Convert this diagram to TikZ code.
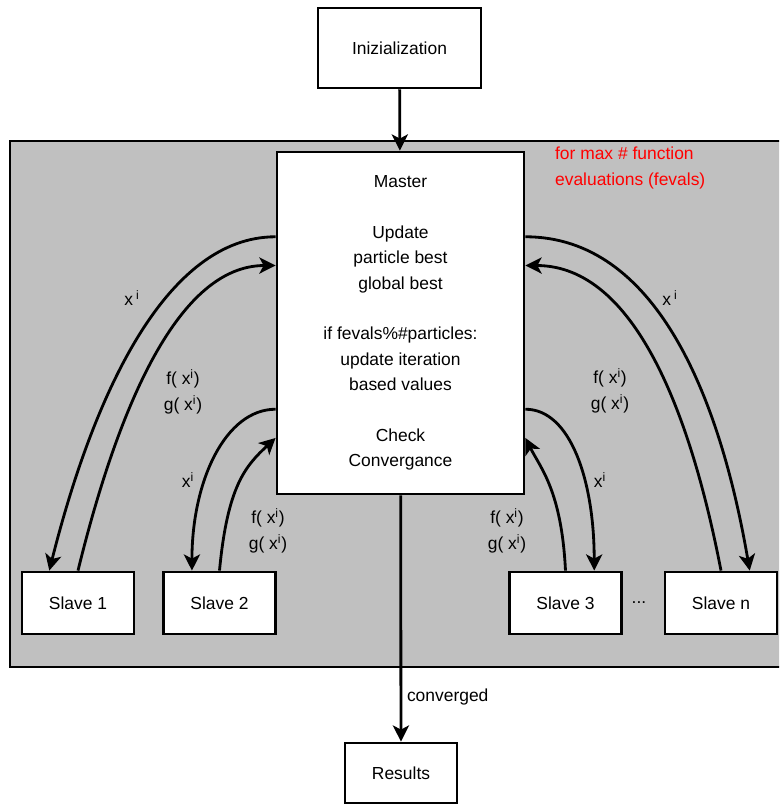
\documentclass[tikz,border=0pt]{standalone}
\usepackage{fontspec}
\setmainfont{Liberation Sans}
\usetikzlibrary{arrows.meta,calc}
\definecolor{panel}{RGB}{192,192,192}

\begin{document}
\begin{tikzpicture}[x=0.025cm,y=-0.025cm,line width=2pt,
  font=\fontsize{12.4}{18.1}\selectfont,
  box/.style={draw,fill=white,minimum width=2.8cm,minimum height=1.55cm,inner sep=0pt},
  arr/.style={-{Stealth[length=11.5pt,width=11.5pt,inset=3pt]}}]
  \useasboundingbox (0,0) rectangle (779,804);
  % grey loop panel, open to the right
  \begin{scope}
    \clip (0,0) rectangle (779,804);
    \fill[panel] (10,141) rectangle (800,667);
    \draw (800,141) -- (10,141) -- (10,667) -- (800,667);
  \end{scope}
  \node[red,align=left,anchor=west] (loop) at (549,168) {for max \# function\\evaluations (fevals)};

  \node[box,minimum width=4.075cm,minimum height=2cm] (init) at (399.5,48) {Inizialization};
  \node[box,minimum width=6.175cm,minimum height=8.55cm,align=center] (master) at (400.5,323)
    {Master\\[18pt]Update\\particle best\\global best\\[18pt]if fevals\%\#particles:\\update iteration\\based values\\[18pt]Check\\Convergance};
  \node[box] (s1) at (78,603) {Slave 1};
  \node[box] (s2) at (219.5,603) {Slave 2};
  \node[box] (s3) at (565.5,603) {Slave 3};
  \node[box] (sn) at (721,603) {Slave n};
  \node (dots) at (639,603) {...};
  \node[box,minimum height=1.5cm] (res) at (401,773) {Results};

  \draw[arr] (init) -- (master);
  \draw[arr] (master) -- node[pos=.82,right] (conv) {converged} (res);

  % slave 1
  \draw[arr] ($(master.north west)!.25!(master.south west)$) .. controls +(-110,0) and +(44,-175) .. ($(s1.north west)!.25!(s1.north east)$);
  \draw[arr] (s1.north) .. controls +(38,-155) and +(-100,0) .. ($(master.north west)!.3333!(master.south west)$);
  % slave 2
  \draw[arr] ($(master.north west)!.75!(master.south west)$) .. controls +(-50,0) and +(0,-90) .. ($(s2.north west)!.26!(s2.north east)$);
  \draw[arr] (s2.north) .. controls +(8,-85) and +(-30,28) .. ($(master.north west)!.8333!(master.south west)$);
  % slave 3
  \draw[arr] ($(master.north east)!.75!(master.south east)$) .. controls +(45,0) and +(0,-90) .. ($(s3.north west)!.75!(s3.north east)$);
  \draw[arr] (s3.north) .. controls +(-4,-80) and +(15,30) .. ($(master.north east)!.8333!(master.south east)$);
  % slave n
  \draw[arr] ($(master.north east)!.25!(master.south east)$) .. controls +(130,0) and +(-30,-175) .. ($(sn.north west)!.75!(sn.north east)$);
  \draw[arr] (sn.north) .. controls +(-30,-155) and +(110,0) .. ($(master.north east)!.3333!(master.south east)$);

  \node (x1) at (132,298) {x\,\textsuperscript{i}};
  \node[align=center] (fg1) at (183,392) {f( x\textsuperscript{i})\\g( x\textsuperscript{i})};
  \node (x2) at (188,480) {x\textsuperscript{i}};
  \node[align=center] (fg2) at (268,531) {f( x\textsuperscript{i})\\g( x\textsuperscript{i})};
  \node (x3) at (600,480) {x\textsuperscript{i}};
  \node[align=center] (fg3) at (507,531) {f( x\textsuperscript{i})\\g( x\textsuperscript{i})};
  \node (xn) at (670,298) {x\,\textsuperscript{i}};
  \node[align=center] (fgn) at (610,391) {f( x\textsuperscript{i})\\g( x\textsuperscript{i})};
\end{tikzpicture}
\end{document}
